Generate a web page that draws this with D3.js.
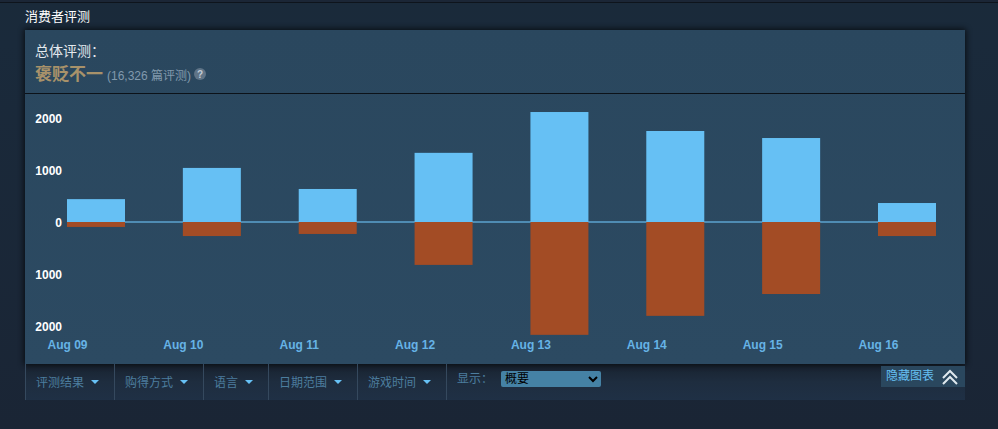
<!DOCTYPE html>
<html>
<head>
<meta charset="utf-8">
<script src="https://cdn.jsdelivr.net/npm/d3@7"></script>
<style>
  html, body { margin: 0; padding: 0; background: #1b2838; overflow: hidden; }
  #page { position: relative; width: 998px; height: 429px; }
  svg { position: absolute; left: 0; top: 0; }
  svg text { font-family: Arial, "Liberation Sans", "Noto Sans CJK SC", sans-serif; }
  #display {
    position: absolute; left: 501px; top: 371px; width: 100px; height: 16px;
    background: #4582a5; border: none; border-radius: 2px; color: #000; padding: 0;
    font: 12px Arial, "Liberation Sans", "Noto Sans CJK SC", sans-serif;
  }
</style>
</head>
<body>
<div id="page">
  <svg id="chart" width="998" height="429"></svg>
  <select id="display"></select>
</div>
<script>
const dates = ["Aug 09", "Aug 10", "Aug 11", "Aug 12", "Aug 13", "Aug 14", "Aug 15", "Aug 16"];
const positive = [440, 1040, 635, 1330, 2115, 1750, 1615, 365];
const negative = [95, 270, 230, 825, 2170, 1805, 1385, 270];
const yTicks = [-2000, -1000, 0, 1000, 2000];
const filters = ["评测结果", "购得方式", "语言", "日期范围", "游戏时间"];
const filterEdges = [25, 114, 203, 268, 357, 446];

const panel = { left: 25, right: 965, top: 30, sep: 93, bottom: 364, barBottom: 400 };
const barWidth = 58;

const svg = d3.select("#chart");
const defs = svg.append("defs");

function gradient(id, stops) {
  const g = defs.append("linearGradient").attr("id", id)
    .attr("x1", 0).attr("y1", 0).attr("x2", 0).attr("y2", 1);
  stops.forEach(s => g.append("stop").attr("offset", s[0]).attr("stop-color", s[1]));
}
gradient("pageBg", [[0, "#1a2a3a"], [0.1, "#1a2a3b"], [1, "#1a2535"]]);
gradient("panelBg", [[0, "#2a475e"], [1, "#2c4a62"]]);
gradient("filterBg", [[0, "#18222f"], [0.5, "#1e2d3f"], [1, "#1f3045"]]);
const blur = defs.append("filter").attr("id", "shadow")
  .attr("x", "-3%").attr("y", "-5%").attr("width", "106%").attr("height", "110%");
blur.append("feGaussianBlur").attr("stdDeviation", 3);

// background
svg.append("rect").attr("width", 998).attr("height", 429).attr("fill", "url(#pageBg)");
svg.append("rect").attr("width", 998).attr("height", 2).attr("fill", "#1b2636");
svg.append("rect").attr("y", 2).attr("width", 998).attr("height", 1).attr("fill", "#0e141c");

svg.append("text").attr("x", 25).attr("y", 21)
  .attr("fill", "#fff").style("font-size", "13px")
  .text("消费者评测");

// filter bar under the panel
svg.append("rect")
  .attr("x", panel.left).attr("y", panel.bottom)
  .attr("width", panel.right - panel.left).attr("height", panel.barBottom - panel.bottom)
  .attr("fill", "url(#filterBg)");

// panel
svg.append("rect")
  .attr("x", panel.left - 1).attr("y", panel.top - 1)
  .attr("width", panel.right - panel.left + 2).attr("height", panel.bottom - panel.top + 2)
  .attr("fill", "#000").attr("opacity", 0.7).attr("filter", "url(#shadow)");
svg.append("rect")
  .attr("x", panel.left).attr("y", panel.top)
  .attr("width", panel.right - panel.left).attr("height", panel.bottom - panel.top)
  .attr("fill", "url(#panelBg)");
svg.append("rect")
  .attr("x", panel.left).attr("y", panel.sep)
  .attr("width", panel.right - panel.left).attr("height", 1)
  .attr("fill", "#0c1219");

// summary header
svg.append("text").attr("x", 35).attr("y", 56)
  .attr("fill", "#e4e9ee").style("font-size", "14px")
  .text("总体评测：");
svg.append("text").attr("x", 35).attr("y", 80)
  .attr("fill", "#a8926a").style("font-size", "17px").style("font-weight", "bold")
  .text("褒贬不一");
svg.append("text").attr("x", 107).attr("y", 80)
  .attr("fill", "#8199ad").style("font-size", "12px")
  .text("(16,326 篇评测)");
svg.append("circle").attr("cx", 200).attr("cy", 74).attr("r", 6).attr("fill", "#5f7487");
svg.append("text").attr("x", 200).attr("y", 78)
  .attr("text-anchor", "middle").attr("fill", "#c2ccd6")
  .style("font-size", "10px").style("font-weight", "bold")
  .text("?");

// scales
const x = d3.scalePoint().domain(dates).range([67, 878]);
const y = d3.scaleLinear().domain([-2000, 2000]).range([326, 118]);

// bars
const rows = dates.map((d, i) => ({ date: d, pos: positive[i], neg: negative[i] }));

// zero line stops at the last bar
svg.append("rect")
  .attr("x", x(dates[0])).attr("y", y(0) - 1)
  .attr("width", x(dates[dates.length - 1]) - x(dates[0])).attr("height", 2)
  .attr("fill", "#4f8cb3");

svg.selectAll(".neg").data(rows).enter().append("rect")
  .attr("class", "neg")
  .attr("x", d => x(d.date))
  .attr("y", y(0))
  .attr("width", barWidth)
  .attr("height", d => y(-d.neg) - y(0))
  .attr("fill", "#a34c25");

svg.selectAll(".pos").data(rows).enter().append("rect")
  .attr("class", "pos")
  .attr("x", d => x(d.date))
  .attr("y", d => y(d.pos))
  .attr("width", barWidth)
  .attr("height", d => y(0) - y(d.pos))
  .attr("fill", "#66c0f4");

// axes
const yAxis = svg.append("g")
  .attr("transform", "translate(62,1)")
  .call(d3.axisLeft(y).tickValues(yTicks).tickSize(0).tickPadding(0).tickFormat(d => Math.abs(d)));
yAxis.select(".domain").remove();
yAxis.selectAll("text")
  .attr("fill", "#fff").style("font-size", "12px").style("font-weight", "bold");

const xAxis = svg.append("g")
  .attr("transform", "translate(0,340)")
  .call(d3.axisBottom(x).tickSize(0).tickPadding(0));
xAxis.select(".domain").remove();
xAxis.selectAll("text")
  .attr("fill", "#66b3e6").style("font-size", "12px").style("font-weight", "bold");

// filter menus
filterEdges.forEach(e => {
  svg.append("line")
    .attr("x1", e + 0.5).attr("x2", e + 0.5)
    .attr("y1", panel.bottom).attr("y2", panel.barBottom)
    .attr("stroke", "#35495e");
});

filters.forEach((f, i) => {
  svg.append("text")
    .attr("x", filterEdges[i] + 11).attr("y", 387)
    .attr("fill", "#4c7d9e").style("font-size", "12px")
    .text(f);
  const cx = filterEdges[i + 1] - 19;
  svg.append("path")
    .attr("d", d3.line()([[cx - 4, 380], [cx + 4, 380], [cx, 384]]) + "Z")
    .attr("fill", "#67c1f5");
});

svg.append("text").attr("x", 457).attr("y", 383)
  .attr("fill", "#4c7d9e").style("font-size", "12px")
  .text("显示：");

d3.select("#display").append("option").text("概要");

// hide graph button
svg.append("rect")
  .attr("x", 881).attr("y", 366).attr("width", 84).attr("height", 21)
  .attr("fill", "#2a475e");
svg.append("text").attr("x", 886).attr("y", 380)
  .attr("fill", "#66c0f4").style("font-size", "12px")
  .text("隐藏图表");
[[371, 378], [377, 384]].forEach(p => {
  svg.append("path")
    .attr("d", d3.line()([[943, p[1]], [950, p[0]], [957, p[1]]]))
    .attr("fill", "none").attr("stroke", "#dfe8ee").attr("stroke-width", 2);
});
</script>
</body>
</html>
